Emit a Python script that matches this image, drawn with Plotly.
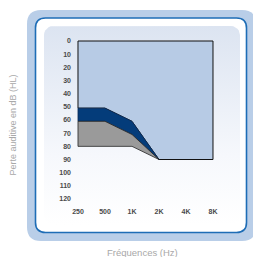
import plotly.graph_objects as go
import math

# ---- data ----
freqs = ["250", "500", "1K", "2K", "4K", "8K"]
db_ticks = [0, 10, 20, 30, 40, 50, 60, 70, 80, 90, 100, 110, 120]
band_freqs = ["250", "500", "1K", "2K"]
dark_top = [51, 51, 61, 90]
dark_bottom = [61, 61, 71, 90]
gray_bottom = [80, 80, 80, 90]
field_top = 0
field_bottom = 90

W, H = 253, 257

def rrect(x0, y0, x1, y1, r):
    return (f"M{x0+r},{y0} L{x1-r},{y0} Q{x1},{y0} {x1},{y0+r} "
            f"L{x1},{y1-r} Q{x1},{y1} {x1-r},{y1} L{x0+r},{y1} "
            f"Q{x0},{y1} {x0},{y1-r} L{x0},{y0+r} Q{x0},{y0} {x0+r},{y0} Z")

def rr_pts(x0, y0, x1, y1, r, n=6):
    pts = []
    corners = [(x1 - r, y1 - r, 0), (x0 + r, y1 - r, 90), (x0 + r, y0 + r, 180), (x1 - r, y0 + r, 270)]
    for cx, cy, a0 in corners:
        for k in range(n + 1):
            a = math.radians(a0 + 90 * k / n)
            pts.append((cx + r * math.cos(a), cy + r * math.sin(a)))
    pts.append(pts[0])
    return [p[0] for p in pts], [p[1] for p in pts]

fig = go.Figure()

px_, py_ = rr_pts(44, H - 225, 240, H - 26, 9)
fig.add_trace(go.Scatter(
    x=px_, y=py_, mode="lines", fill="toself", line=dict(width=0),
    fillgradient=dict(type="vertical", start=H - 225, stop=H - 26,
                      colorscale=[[0, "#ffffff"], [0.35, "#f6f8fc"], [1, "#dce4f1"]]),
    hoverinfo="skip", showlegend=False, xaxis="x", yaxis="y"))

fx = ["250", "8K", "8K", band_freqs[3], band_freqs[2], band_freqs[1], band_freqs[0], "250"]
fy = [field_top, field_top, field_bottom, dark_top[3], dark_top[2], dark_top[1], dark_top[0], field_top]
fig.add_trace(go.Scatter(x=fx, y=fy, mode="lines", fill="toself", fillcolor="#b7cbe5",
                         line=dict(color="#111111", width=1), hoverinfo="skip",
                         showlegend=False, xaxis="x2", yaxis="y2"))

dx = band_freqs + band_freqs[::-1][1:] + [band_freqs[0]]
dy = dark_top + dark_bottom[::-1][1:] + [dark_top[0]]
fig.add_trace(go.Scatter(x=dx, y=dy, mode="lines", fill="toself", fillcolor="#043c7a",
                         line=dict(color="#0a2a55", width=0.8), hoverinfo="skip",
                         showlegend=False, xaxis="x2", yaxis="y2"))

gx = band_freqs + band_freqs[::-1][1:] + [band_freqs[0]]
gy = dark_bottom + gray_bottom[::-1][1:] + [dark_bottom[0]]
fig.add_trace(go.Scatter(x=gx, y=gy, mode="lines", fill="toself", fillcolor="#9a9a9a",
                         line=dict(color="#222222", width=0.8), hoverinfo="skip",
                         showlegend=False, xaxis="x2", yaxis="y2"))

shapes = [
    dict(type="path", path=rrect(27, H - 241, 256, H - 10, 14), xref="x", yref="y",
         fillcolor="#b9cee8", line=dict(width=0), layer="below"),
    dict(type="path", path=rrect(35.5, H - 232.5, 246.5, H - 18, 10), xref="x", yref="y",
         fillcolor="#ffffff", line=dict(color="#1e6db6", width=1.6), layer="below"),
]

pl, pr, pt, pb = 72, 233, 30, 206
tfont = dict(family="Liberation Sans", size=7, color="#4a4a4a", weight=700)
fig.update_layout(
    width=W, height=H, margin=dict(l=0, r=0, t=0, b=0),
    paper_bgcolor="white", plot_bgcolor="rgba(0,0,0,0)",
    shapes=shapes,
    xaxis=dict(domain=[0, 1], range=[0, W], visible=False, fixedrange=True),
    yaxis=dict(domain=[0, 1], range=[0, H], visible=False, fixedrange=True),
    xaxis2=dict(domain=[pl / W, pr / W], anchor="y2", type="category",
                categoryorder="array", categoryarray=freqs,
                range=[-0.222, 5.741], showgrid=False, zeroline=False, showline=False,
                ticks="", tickfont=tfont),
    yaxis2=dict(domain=[1 - pb / H, 1 - pt / H], anchor="x2",
                range=[125.3, -8.35], tickvals=db_ticks, showgrid=False, zeroline=False,
                showline=False, ticks="", tickfont=tfont),
    annotations=[
        dict(text="Perte auditive en dB (HL)", x=12.5 / W, y=1 - 125 / H, xref="paper", yref="paper",
             xanchor="center", yanchor="middle",
             textangle=-90, showarrow=False, font=dict(family="Liberation Sans", size=9, color="#a8a8a8")),
        dict(text="Fréquences (Hz)", x=142 / W, y=1 - 252 / H, xref="paper", yref="paper",
             xanchor="center", yanchor="middle",
             showarrow=False, font=dict(family="Liberation Sans", size=9.5, color="#a8a8a8")),
    ],
)

fig.write_html("out.html", config={"displayModeBar": False},
               post_script="document.body.style.margin='0';document.body.style.padding='0';document.body.style.overflow='hidden';")
